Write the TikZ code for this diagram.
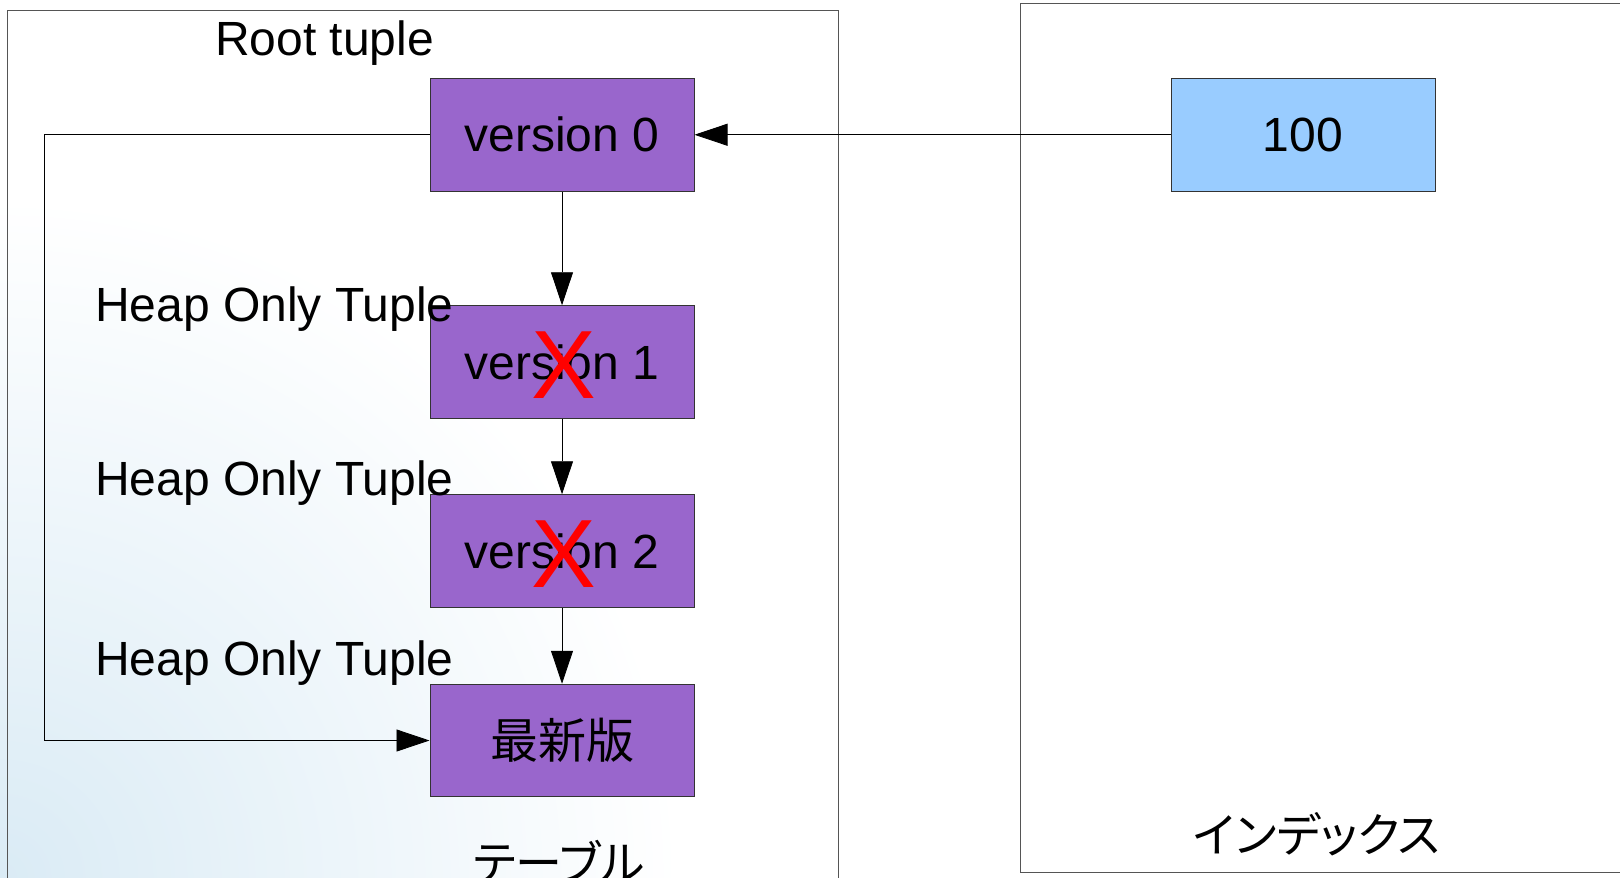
\documentclass[tikz,border=0pt]{standalone}
\usepackage{fontspec}
\setmainfont{Liberation Sans}
\newfontfamily\jpfont[RawFeature=+palt]{Noto Sans CJK JP}
\usetikzlibrary{arrows.meta}
\definecolor{tuplefill}{HTML}{9966CC}
\definecolor{indexfill}{HTML}{99CCFF}
\definecolor{framegray}{HTML}{555555}
\definecolor{haze}{HTML}{DAEBF5}

\begin{document}
\begin{tikzpicture}[x=1pt,y=-1pt,
  tuple/.style={draw=black!80, fill=tuplefill, line width=1pt,
    minimum width=264pt, minimum height=112.5pt, inner sep=0pt,
    font=\fontsize{48}{50}\selectfont},
  keybox/.style={tuple, fill=indexfill},
  frame/.style={draw=framegray, line width=1pt},
  txt/.style={inner sep=0pt, font=\fontsize{48}{50}\selectfont},
  jptxt/.style={inner sep=0pt, font=\jpfont\fontsize{47}{50}\selectfont},
  cross/.style={text=red, inner sep=0pt, font=\fontsize{97}{97}\selectfont},
  link/.style={line width=0.8pt, -{Triangle[length=33pt,width=22pt]}}
]
\useasboundingbox (0,0) rectangle (1620,878);
\clip (0,0) rectangle (1620,878);

% faint tint in the lower left of the table area
\begin{scope}
  \clip (0,0) rectangle (838,878);
  \shade[inner color=haze, outer color=white] (0,878) circle (680);
\end{scope}

% table and index areas
\draw[frame] (7,10.5) rectangle (838,920);
\draw[frame] (1020,3) rectangle (1700,872);

% tuple chain
\node[tuple] (v0) at (562,134.75) {version 0};
\node[tuple] (v1) at (562,362) {version 1};
\node[tuple] (v2) at (562,551) {version 2};
\node[tuple] (v3) at (562,740.5) {\jpfont 最新版};
\node[keybox] (key) at (1303,134.75) {100};

% dead versions
\node[cross] (x1) at (564,365.5) {X};
\node[cross] (x2) at (564,554.5) {X};

% labels
\node[txt, anchor=base west] (root) at (215,55) {Root tuple};
\node[txt, anchor=base west] (hot1) at (95,321) {Heap Only Tuple};
\node[txt, anchor=base west] (hot2) at (95,495) {Heap Only Tuple};
\node[txt, anchor=base west] (hot3) at (95,675) {Heap Only Tuple};
\node[jptxt, anchor=base] (tbl) at (559,880) {テーブル};
\node[jptxt, anchor=base] (idx) at (1317,852) {インデックス};

% connectors
\coordinate (lt) at (44,134.75);
\coordinate (lb) at (44,740.5);
\draw[link] (key.west) -- (v0.east);
\draw[link] (v0.south) -- (v1.north);
\draw[link] (v1.south) -- (v2.north);
\draw[link] (v2.south) -- (v3.north);
\draw[link] (v0.west) -- (lt) -- (lb) -- (v3.west);
\end{tikzpicture}
\end{document}
